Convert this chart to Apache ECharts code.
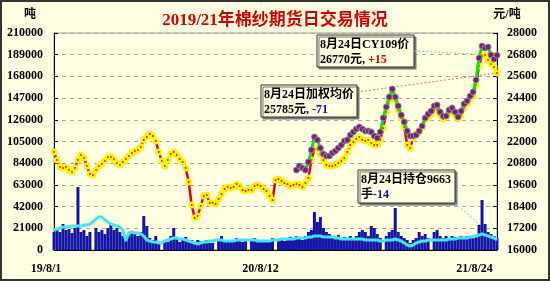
<!DOCTYPE html>
<html><head><meta charset="utf-8">
<script src="https://cdn.jsdelivr.net/npm/echarts@6/dist/echarts.min.js"></script>
<style>
html,body{margin:0;padding:0;background:#fff;}
#wrap{position:relative;width:550px;height:285px;}
#frame{position:absolute;left:0;top:0;width:546px;height:277px;border:2px solid #333;background:#FFFFE1;}
#c{position:absolute;left:0;top:0;width:550px;height:285px;}
</style></head><body>
<div id="wrap"><div id="frame"></div><div id="c"></div></div>
<script>
// ---------------- data ----------------
const titleText = '2019/21年棉纱期货日交易情况';
const xTickLabels = ['19/8/1', '20/8/12', '21/8/24'];
const xTickIndex = [0, 69, 148];
const leftTicks = [0, 210000, 21000];   // min, max, interval (吨)
const rightTicks = [16000, 28000, 1200]; // min, max, interval (元/吨)

// weighted average price (元/吨)
const avgPrice = [21420,20975,20590,20535,20590,20425,20315,20535,20975,21255,
21090,20645,20205,20150,20425,20645,20755,20920,21145,21145,
21030,20810,20700,20865,21030,21200,21365,21475,21530,21695,
22085,22250,22415,22305,22030,21420,20920,20645,20975,21310,
21420,21255,21030,20865,20535,19760,18490,17770,17880,18435,
18985,19040,18600,18600,18545,18820,19095,19375,19485,19430,
19485,19650,19540,19320,19265,19320,19320,19540,19595,19540,
19375,19265,18985,18765,19870,19925,19815,19705,19650,19540,
19595,19650,19595,19485,19705,19980,20975,21585,21585,21310,
20975,20700,20645,20645,20700,20810,20920,21090,21420,21805,
21970,22140,22250,22085,22030,22085,21915,21805,21805,22085,
22745,23630,24295,24735,24295,23740,23300,22800,21805,21640,
22195,22415,22525,22800,23190,23355,23520,23740,23740,23465,
23245,23355,23575,23630,23465,23245,23465,23855,24075,24350,
24515,25125,26175,26730,26785,26505,26285,26120,25785];

// CY109 contract price (元/吨), listed from index 81
const cyPrice = [].concat(new Array(81).fill(null), [
20425,20645,20535,20425,20865,21530,22250,22085,21640,
21310,21200,21200,21365,21475,21640,21805,22030,22085,22360,
22525,22690,22800,22690,22580,22580,22525,22305,22195,22525,
23300,23910,24460,24905,24460,23965,23465,23080,22580,22305,
22305,22360,22580,22855,23300,23520,23685,23965,24020,23630,
23410,23410,23740,23855,23630,23355,23685,24075,24240,24515,
24735,25400,26620,27280,27170,27225,26785,26560,26770]);

// trading volume (吨)
const volume = [17420,21290,17420,25160,19350,20320,16450,21290,61000,17420,
19350,13550,17420,0,21290,17420,19350,15480,21290,24190,
19350,21290,17420,13550,11610,14515,17420,15480,13550,17420,
32900,23225,11610,9680,13550,6775,0,9680,7740,13550,
21290,11610,7740,9680,12580,7740,9680,5805,9680,8710,
7740,9680,6775,6775,0,9680,13550,9680,7740,9680,
8710,11610,9680,7740,9680,0,9680,11610,8710,9680,
7740,8710,9680,11610,0,9680,11610,8710,9680,12580,
10645,13550,11610,9680,13550,17420,19350,36770,27095,31935,
21290,17420,15480,13550,11610,14515,9680,12580,11610,13550,
11610,13550,17420,19350,17420,13550,23225,21290,15480,11610,
0,13550,17420,19350,40645,17420,13550,11610,9680,6775,
9680,11610,17420,13550,15480,11610,0,17420,19350,13550,
11610,13550,11610,13550,12580,11610,13550,11610,13550,12580,
13550,14515,24190,48385,25160,17420,15480,13550,11610];

// open interest (吨)
const openInterest = [19350,20320,21290,22260,22260,22260,23225,23225,23225,23225,
24190,24190,25160,27095,30000,31935,31935,29030,27095,25160,
24190,23225,22260,19350,8710,16450,17420,16450,16450,15480,
13550,9680,8710,7740,7740,6775,6775,8710,9680,10645,
11610,11610,10645,10645,9680,8710,7740,6775,5805,6775,
7740,7740,8710,8710,9680,9680,9680,8710,8710,8710,
8710,9680,9680,9680,9680,9680,9680,9680,8710,8710,
8710,8710,8710,9680,9680,9680,10645,10645,10645,10645,
10645,11610,11610,11610,11610,12580,12580,13550,13550,13550,
12580,12580,12580,12580,11610,11610,10645,10645,10645,10645,
10645,10645,10645,10645,9680,9680,9680,9680,9680,8710,
8710,9680,9680,9680,10645,9680,8710,6775,4840,3870,
4840,6775,7740,8710,8710,9680,9680,9680,9680,9680,
9680,9680,10645,10645,10645,11610,11610,11610,11610,12580,
12580,13550,14515,15480,14515,13550,12580,11610,9663];

// latest-day notes
const noteDate = '8月24日';
const cyNote = [26770, 15];
const avgNote = [25785, -71];
const oiNote = [9663, -14];

const categories = avgPrice.map((_, i) => String(i));

// ---------------- chart ----------------
const FONT = '"Liberation Serif","Noto Sans CJK SC",serif';
const chart = echarts.init(document.getElementById('c'), null, {renderer: 'canvas'});
const lblStyle = {fontFamily: FONT, fontWeight: 'bold', fontSize: 12, color: '#000'};
const xRich = {
  a: Object.assign({padding: [0, 16, 0, 0]}, lblStyle),
  b: Object.assign({}, lblStyle),
  c: Object.assign({padding: [0, 45, 0, 0]}, lblStyle)
};
const keys = ['a', 'b', 'c'];
const plain = (v) => String(v);

chart.setOption({
  backgroundColor: 'transparent',
  animation: false,
  title: {
    text: titleText, left: 'center', top: 7,
    textStyle: {fontFamily: FONT, fontWeight: 'bold', fontSize: 17, color: '#D00000',
      textShadowColor: '#700000', textShadowOffsetX: 1, textShadowOffsetY: 1, textShadowBlur: 0}
  },
  grid: {left: 54, right: 53, top: 33, bottom: 35, show: true, borderColor: '#999', borderWidth: 1},
  xAxis: {
    type: 'category', data: categories, boundaryGap: false,
    axisLine: {show: true, lineStyle: {color: '#000'}},
    axisTick: {show: false}, splitLine: {show: false},
    axisLabel: {
      interval: (i) => xTickIndex.indexOf(i) >= 0,
      showMinLabel: true, showMaxLabel: true, hideOverlap: false, margin: 13,
      formatter: (v, i) => { const k = xTickIndex.indexOf(i); return k < 0 ? '' : '{' + keys[k] + '|' + xTickLabels[k] + '}'; },
      rich: xRich
    }
  },
  yAxis: [{
    type: 'value', position: 'left', min: leftTicks[0], max: leftTicks[1], interval: leftTicks[2],
    name: '吨', nameLocation: 'end', nameGap: 18,
    nameTextStyle: Object.assign({align: 'right', verticalAlign: 'middle', padding: [0, 18, 0, 0]}, lblStyle),
    axisLine: {show: true, lineStyle: {color: '#000'}},
    axisTick: {show: true, inside: true, length: 4, lineStyle: {color: '#000'}},
    axisLabel: Object.assign({margin: 11, formatter: plain}, lblStyle),
    splitLine: {show: true, lineStyle: {color: '#A8A8A8', type: [4, 4], width: 1}}
  }, {
    type: 'value', position: 'right', min: rightTicks[0], max: rightTicks[1], interval: rightTicks[2],
    name: '元/吨', nameLocation: 'end', nameGap: 18,
    nameTextStyle: Object.assign({align: 'center', verticalAlign: 'middle', padding: [0, 0, 0, 20]}, lblStyle),
    axisLine: {show: true, lineStyle: {color: '#000'}},
    axisTick: {show: true, inside: true, length: 4, lineStyle: {color: '#000'}},
    axisLabel: Object.assign({margin: 10, formatter: plain}, lblStyle),
    splitLine: {show: false}
  }],
  series: [{
    name: '成交量', type: 'bar', yAxisIndex: 0, data: volume,
    barCategoryGap: 0, barWidth: 3, itemStyle: {color: '#1414A8'}, z: 1
  }, {
    name: '持仓', type: 'line', yAxisIndex: 0, data: openInterest, symbol: 'none',
    lineStyle: {color: '#40E6F2', width: 3}, z: 2
  }, {
    name: '加权均价', type: 'line', yAxisIndex: 1, data: avgPrice,
    showAllSymbol: true, symbol: 'circle', symbolSize: 7,
    lineStyle: {color: '#E80000', width: 2.5},
    itemStyle: {color: '#FFF200', borderWidth: 0}, z: 3
  }, {
    name: '加权均价点', type: 'line', yAxisIndex: 1, data: avgPrice,
    showAllSymbol: true, symbol: 'rect', symbolSize: 1.6,
    lineStyle: {opacity: 0, width: 0},
    itemStyle: {color: '#D00000'}, z: 4
  }, {
    name: 'CY109', type: 'line', yAxisIndex: 1, data: cyPrice, connectNulls: false,
    showAllSymbol: true, symbol: 'circle', symbolSize: 6,
    lineStyle: {color: '#10E010', width: 3},
    itemStyle: {color: '#7A1C7E', borderColor: '#8C8C8C', borderWidth: 1}, z: 5
  }]
});

// notes and connectors
const last = avgPrice.length - 1;
const pCy = chart.convertToPixel({seriesIndex: 4}, [last, cyPrice[last]]);
const pAvg = chart.convertToPixel({seriesIndex: 2}, [last, avgPrice[last]]);
const pOi = chart.convertToPixel({seriesIndex: 1}, [last, openInterest[last]]);
const sgn = (v) => (v > 0 ? '+' : '') + v;
const boxFont = {fontFamily: FONT, fontWeight: 'bold', fontSize: 12};
function box(x, y, w, h, text, rich) {
  return {
    type: 'group', z: 100, children: [
      {type: 'rect', shape: {x: x, y: y, width: w, height: h},
       style: {fill: '#FFFFE1', stroke: '#333', lineWidth: 1, shadowColor: '#777', shadowOffsetX: 2, shadowOffsetY: 2, shadowBlur: 0}},
      {type: 'text', x: x + 3, y: y + 2,
       style: Object.assign({text: text, rich: rich, fill: '#000', lineHeight: 15, verticalAlign: 'top', align: 'left'}, boxFont)}
    ]
  };
}
const richBase = {
  k: Object.assign({fill: '#000', lineHeight: 15}, boxFont),
  r: Object.assign({fill: '#C80000', lineHeight: 15}, boxFont),
  u: Object.assign({fill: '#1010A0', lineHeight: 15}, boxFont)
};
chart.setOption({
  graphic: [
    {type: 'line', z: 1, shape: {x1: 414, y1: 51, x2: pCy[0], y2: pCy[1]},
     style: {stroke: '#70D870', lineWidth: 1, lineDash: [2, 2]}},
    {type: 'line', z: 1, shape: {x1: 357, y1: 92, x2: pAvg[0], y2: pAvg[1]},
     style: {stroke: '#E07070', lineWidth: 1, lineDash: [2, 2]}},
    {type: 'line', z: 1, shape: {x1: 455, y1: 203, x2: pOi[0], y2: pOi[1]},
     style: {stroke: '#50D0E0', lineWidth: 1, lineDash: [2, 2]}},
    box(317, 35, 97, 32, '{k|' + noteDate + 'CY109价}\n{k|' + cyNote[0] + '元, }{r|' + sgn(cyNote[1]) + '}', richBase),
    box(261, 85, 96, 32, '{k|' + noteDate + '加权均价}\n{k|' + avgNote[0] + '元, }{u|' + sgn(avgNote[1]) + '}', richBase),
    box(358, 170, 97, 33, '{k|' + noteDate + '持仓' + oiNote[0] + '}\n{k|手}{u|' + sgn(oiNote[1]) + '}', richBase)
  ]
});
</script></body></html>
